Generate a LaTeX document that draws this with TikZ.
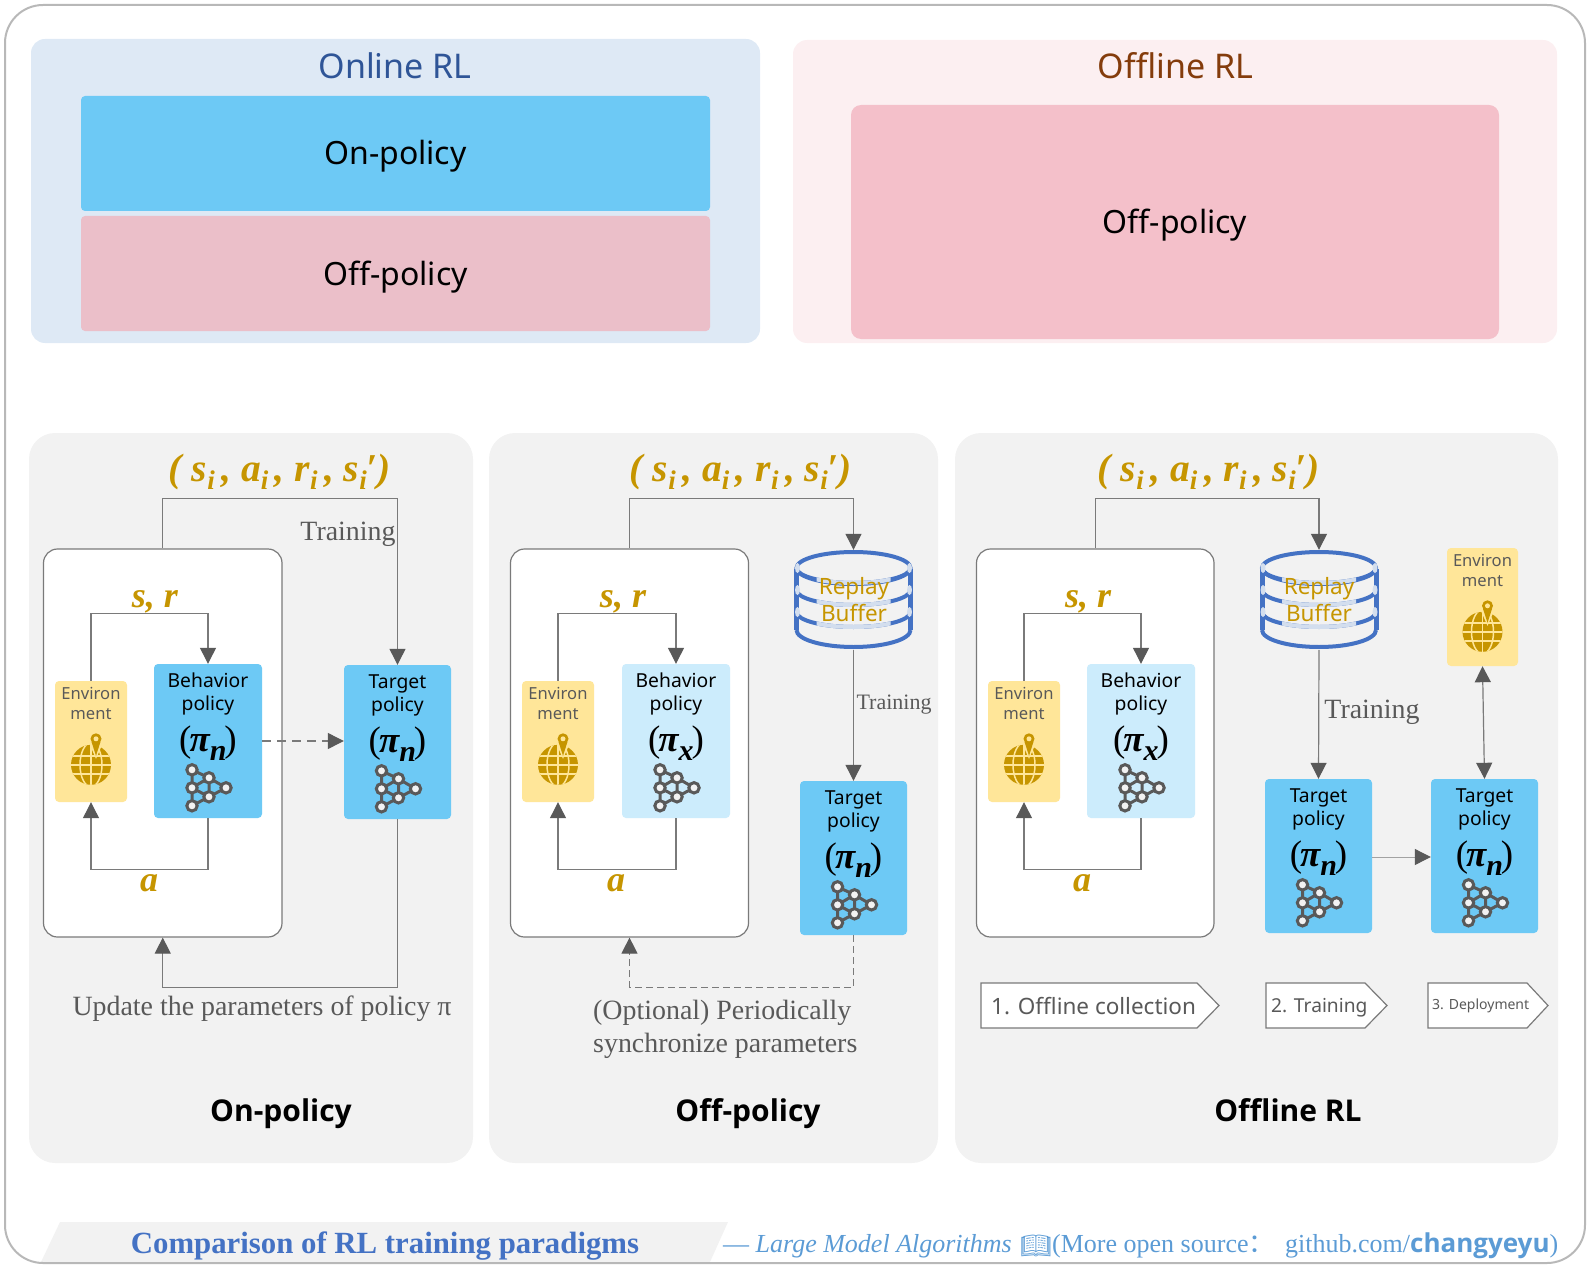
\documentclass[tikz,border=0pt]{standalone}
\usepackage{fontspec}
\setmainfont{Noto Sans}
\newfontfamily\srf{Liberation Serif}
\newfontfamily\cjkf{Noto Sans CJK SC}
\newfontfamily\emojif{Noto Emoji}
\newfontfamily\opsans{Open Sans}
\usetikzlibrary{arrows.meta,calc}
\definecolor{gold}{HTML}{C69500}
\definecolor{skyb}{HTML}{6DC9F5}
\definecolor{palesky}{HTML}{CCECFC}
\definecolor{envy}{HTML}{FFE699}
\definecolor{panelg}{HTML}{F2F2F2}
\definecolor{inkg}{HTML}{595959}
\definecolor{lineg}{HTML}{7A7A7A}
\definecolor{dbblue}{HTML}{4472C4}
\definecolor{footb}{HTML}{5B9BD5}
\definecolor{HTMLlight}{HTML}{D3DEEE}
\definecolor{HTMLa}{HTML}{DEE9F5}
\definecolor{HTMLb}{HTML}{FCEFF1}
\definecolor{HTMLc}{HTML}{2F5597}
\definecolor{HTMLd}{HTML}{843C0C}
\definecolor{HTMLe}{HTML}{EBBFC9}
\definecolor{HTMLf}{HTML}{F4C0CA}
\newcommand\fs[1]{\fontsize{#1}{#1}\selectfont}
\newcommand\bx[7]{%
  \pgfmathsetmacro\bxw{#5-#3}\pgfmathsetmacro\bxh{#6-#4}%
  \node[#2,minimum width=\bxw pt,minimum height=\bxh pt] (#1) at ({(#3+#5)/2},{(#4+#6)/2}) {#7};}
\newcommand\sbb[1]{\raisebox{-8pt}{\fs{27}#1}}
\newcommand\tupl{{\srf\bfseries\itshape\color{gold}\fs{39.5}( s\sbb{i}\,, a\sbb{i}\,, r\sbb{i}\,, s\sbb{i}′)}}
\newcommand\ctr[1]{\raisebox{-11.5pt}[0pt][0pt]{#1}}
\newcommand\policy[9]{%
  \bx{#1}{rbox,fill=#2}{#3}{#4}{#5}{#6}{}%
  \node[boxtxt] (#1-l1) at ($(#1.north)+(0,18)$) {#7};
  \node[boxtxt] (#1-l2) at ($(#1.north)+(0,41)$) {#8};
  \node[pitxt] (#1-pi) at ($(#1.north)+(0,79)$) {{\upshape\mdseries(}\kern-2pt π\raisebox{-9pt}{\fs{30}#9}\kern-2pt{\upshape\mdseries)}};
  \pic at ($(#1.north)+(1,124)$) {nnicon};}
\newcommand\envbox[5]{%
  \bx{#1}{rbox,fill=envy}{#2}{#3}{#4}{#5}{}%
  \node[envtxt] (#1-l1) at ($(#1.north)+(0,14)$) {Environ};
  \node[envtxt] (#1-l2) at ($(#1.north)+(0,34)$) {ment};
  \pic at ($(#1.north)+(0,84)$) {globeicon};}
\tikzset{
  rbox/.style={rectangle,rounded corners=4pt,inner sep=0pt,draw=none},
  panel/.style={rectangle,rounded corners=26pt,inner sep=0pt,draw=none,fill=panelg},
  topp/.style={rectangle,rounded corners=14pt,inner sep=0pt,draw=none},
  whitebox/.style={rectangle,rounded corners=14pt,inner sep=0pt,draw=lineg,line width=1.2pt,fill=white},
  ghost/.style={rectangle,inner sep=0pt,draw=none},
  boxtxt/.style={inner sep=0pt,font=\fs{19.3},text=black,text height=15pt,text depth=4pt},
  envtxt/.style={inner sep=0pt,font=\fs{16.6},text=inkg,text height=13pt,text depth=3.5pt},
  pitxt/.style={inner sep=0pt,font=\srf\bfseries\itshape\fs{37},text=black},
  serif/.style={inner sep=0pt,font=\srf\fs{27.9},text=inkg},
  goldt/.style={inner sep=0pt,font=\srf\bfseries\itshape\fs{36},text=gold},
  headt/.style={inner sep=0pt,font=\fs{34}},
  capt/.style={inner sep=0pt,font=\opsans\bfseries\fs{30},text=black,text height=24pt,text depth=7pt},
  dbtxt/.style={inner sep=0pt,font=\fs{22.5},text=gold,text height=17pt,text depth=5pt},
  wire/.style={draw=lineg,line width=1.2pt},
  arr/.style={wire,-{Triangle[width=16pt,length=16pt,color=inkg]}},
  darr/.style={wire,{Triangle[width=16pt,length=16pt,color=inkg]}-{Triangle[width=16pt,length=16pt,color=inkg]}},
  pent/.style={draw=lineg,line width=1.2pt,fill=white},
  nnicon/.pic={
    \draw[inkg,line width=3pt] (-17,-18)--(0,-10)--(17,0)--(0,9)--(-17,18)--(-17,-18) (0,-10)--(-17,0)--(0,9)--(0,-10);
    \foreach \p/\q in {-17/-18,0/-10,-17/0,17/0,0/9,-17/18}{\fill[panelg,draw=inkg,line width=3pt] (\p,\q) circle (5.2);}
  },
  globeicon/.pic={
    \fill[gold] (0,0) circle (20);
    \begin{scope}
      \clip (0,0) circle (20);
      \draw[envy,line width=1.5pt] (-22,-9)--(22,-9) (-22,0)--(22,0) (-22,9)--(22,9) (0,-22)--(0,22);
      \draw[envy,line width=1.5pt] (0,0) ellipse (11 and 22);
    \end{scope}
    \fill[envy] (5,-26) circle (7.5);
    \fill[envy] (-2,-22)--(5,-6)--(12,-22)--cycle;
    \fill[gold] (5,-26) circle (5.5);
    \fill[gold] (0.5,-23)--(5,-9)--(9.5,-23)--cycle;
    \fill[envy] (5,-26) circle (2.5);
  },
  dbicon/.pic={
    \def\dbarc##1##2{(-57,##1) arc[start angle=180,end angle=0,x radius=57,y radius=##2]}
    \draw[dbblue,line width=4pt] (0,-32) ellipse (57 and 16);
    \draw[dbblue,line width=5pt] (-57,-31)--(-57,30) (57,-31)--(57,30);
    \draw[dbblue,line width=4pt] \dbarc{-32}{15} \dbarc{-10}{15} \dbarc{12}{15} \dbarc{30}{17};
    \begin{scope}
      \clip (-37,-32) rectangle (37,32);
      \draw[HTMLlight,line width=4pt] \dbarc{-32}{15} \dbarc{-10}{15} \dbarc{12}{15};
    \end{scope}
    \foreach \yy in {-32,-10,12}{\fill[HTMLlight] (-56,\yy) ellipse (2.5 and 5) (56,\yy) ellipse (2.5 and 5);}
  },
}
\begin{document}
\begin{tikzpicture}[x=1pt,y=-1pt]
\useasboundingbox (0,0) rectangle (1590,1268);
% footer band
\fill[panelg] (60,1222)--(728,1222)--(710,1262)--(41,1262)--cycle;
\draw[draw=black!28,line width=2pt,rounded corners=38pt] (5,5) rectangle (1585,1263);
% top panels
\bx{onl}{topp,fill=HTMLa}{31}{39}{760}{343}{}
\bx{ofl}{topp,fill=HTMLb}{793}{40}{1557}{343}{}
\node[headt,text=HTMLc] (onlt) at (395,65.5) {Online RL};
\node[headt,text=HTMLd] (oflt) at (1175.5,65.5) {Offline RL};
\bx{onp}{rbox,fill=skyb,font=\fs{32}}{81}{96}{710}{211}{\ctr{On-policy}}
\bx{ofp}{rbox,fill=HTMLe,font=\fs{32}}{81}{216}{710}{331}{\ctr{Off-policy}}
\bx{ofq}{rbox,fill=HTMLf,rounded corners=10pt,font=\fs{32}}{851}{105}{1499}{339}{\ctr{Off-policy}}
% lower panels
\bx{pa}{panel}{29}{433}{473}{1163}{}
\bx{pb}{panel}{489}{433}{938}{1163}{}
\bx{pc}{panel}{955}{433}{1558}{1163}{}
\node[inner sep=0pt] (tupa) at (280,472) {\tupl};
\node[inner sep=0pt] (tupb) at (741,472) {\tupl};
\node[inner sep=0pt] (tupc) at (1209,472) {\tupl};
% white boxes
\bx{wa}{whitebox}{43.5}{549}{282}{937}{}
\bx{wb}{whitebox}{510.5}{549}{748.5}{937}{}
\bx{wc}{whitebox}{976.5}{549}{1214}{937}{}
% panel A
\envbox{ea}{55}{681}{127}{802}
\policy{ba}{skyb}{154}{664}{262}{818}{Behavior}{policy}{n}
\policy{ta}{skyb}{344}{665}{451}{819}{Target}{policy}{n}
\node[goldt] (sra) at (155,602) {s, r};
\node[goldt] (aa) at (149,883) {a};
\node[serif] (tra) at (348,534) {Training};
\node[serif] (upa) at (262,1008.5) {Update the parameters of policy π};
\node[capt] (capa) at (281,1113) {On-policy};
\draw[arr] (ea.north) -- ++(0,-67) -| (ba.north);
\draw[arr] (ba.south) -- ++(0,51) -| (ea.south);
\draw[arr,dashed,dash pattern=on 9pt off 6pt] (ba.east|-0,741) -- (ta.west|-0,741);
\draw[arr] (wa.north) -- ++(0,-50) -| (ta.north);
\draw[arr] (ta.south) -- ++(0,168) -| (wa.south);
% panel B
\envbox{eb}{522}{681}{594}{802}
\policy{bb}{palesky}{622}{664}{730}{818}{Behavior}{policy}{x}
\policy{tb}{skyb}{800}{781}{907}{935}{Target}{policy}{n}
\bx{dbb}{ghost}{794}{550}{913}{650}{}
\pic at (dbb.center) {dbicon};
\node[dbtxt] (dbbl1) at (854,588) {Replay};
\node[dbtxt] (dbbl2) at (854,615) {Buffer};
\node[goldt] (srb) at (623,602) {s, r};
\node[goldt] (ab) at (616,883) {a};
\node[serif,font=\srf\fs{22}] (trb) at (894,705) {Training};
\node[serif,anchor=west] (opta) at (593,1012.5) {(Optional) Periodically};
\node[serif,anchor=west] (optb) at (593,1045.5) {synchronize parameters};
\node[capt] (capb) at (748,1113) {Off-policy};
\draw[arr] (eb.north) -- ++(0,-67) -| (bb.north);
\draw[arr] (bb.south) -- ++(0,51) -| (eb.south);
\draw[arr] (wb.north) -- ++(0,-50) -| (dbb.north);
\draw[arr] (dbb.south) -- (tb.north);
\draw[arr,dashed,dash pattern=on 7pt off 4pt] (tb.south) -- ++(0,52) -| (wb.south);
% panel C
\envbox{ec}{988}{681}{1060}{802}
\policy{bc}{palesky}{1087}{664}{1195}{818}{Behavior}{policy}{x}
\policy{tc}{skyb}{1265}{779}{1372}{933}{Target}{policy}{n}
\policy{td}{skyb}{1431}{779}{1538}{933}{Target}{policy}{n}
\bx{dbc}{ghost}{1259.5}{550}{1378.5}{650}{}
\pic at (dbc.center) {dbicon};
\node[dbtxt] (dbcl1) at (1319,588) {Replay};
\node[dbtxt] (dbcl2) at (1319,615) {Buffer};
\envbox{ed}{1447}{548}{1518}{666}
\node[goldt] (src) at (1088,602) {s, r};
\node[goldt] (ac) at (1082,883) {a};
\node[serif] (trc) at (1372,712) {Training};
\node[capt] (capc) at (1288,1113) {Offline RL};
\draw[arr] (ec.north) -- ++(0,-67) -| (bc.north);
\draw[arr] (bc.south) -- ++(0,51) -| (ec.south);
\draw[arr] (wc.north) -- ++(0,-50) -| (dbc.north);
\draw[arr] (dbc.south) -- (tc.north);
\draw[arr,draw=lineg!70,line width=1pt] (tc.east|-0,857) -- (td.west|-0,857);
\draw[darr] (ed.south) -- (td.north);
% stage pentagons
\draw[pent] (981,983)--(1197,983)--(1219,1005.5)--(1197,1028)--(981,1028)--cycle;
\draw[pent] (1266,983)--(1365,983)--(1387,1005.5)--(1365,1028)--(1266,1028)--cycle;
\draw[pent] (1428,983)--(1527,983)--(1548,1005.5)--(1527,1028)--(1428,1028)--cycle;
\node[inner sep=0pt,font=\fs{22.5},text=inkg,anchor=west] (sta) at (991,1006) {1. Offline collection};
\node[inner sep=0pt,font=\fs{19.2},text=inkg,anchor=west] (stb) at (1271,1008) {2. Training};
\node[inner sep=0pt,font=\fs{14},text=inkg,anchor=west] (stc) at (1432,1006) {3. Deployment};
% footer
\node[inner sep=0pt,font=\srf\bfseries\fs{30.8},text=dbblue] (fta) at (385,1246.5) {Comparison of RL training paradigms};
\node[inner sep=0pt,font=\srf\fs{26},text=footb,anchor=west] (ftb) at (723,1246) {— \itshape Large Model Algorithms};
\node[inner sep=0pt,font=\emojif\fs{25},text=footb,anchor=west] (ftc) at (1020,1246) {📖};
\node[inner sep=0pt,font=\srf\fs{26},text=footb,anchor=west] (ftd) at (1052,1246) {(More open source{\cjkf：}};
\node[inner sep=0pt,font=\srf\fs{26},text=footb,anchor=west] (fte) at (1285,1246) {github.com/{\opsans\bfseries changyeyu})};
\end{tikzpicture}
\end{document}
